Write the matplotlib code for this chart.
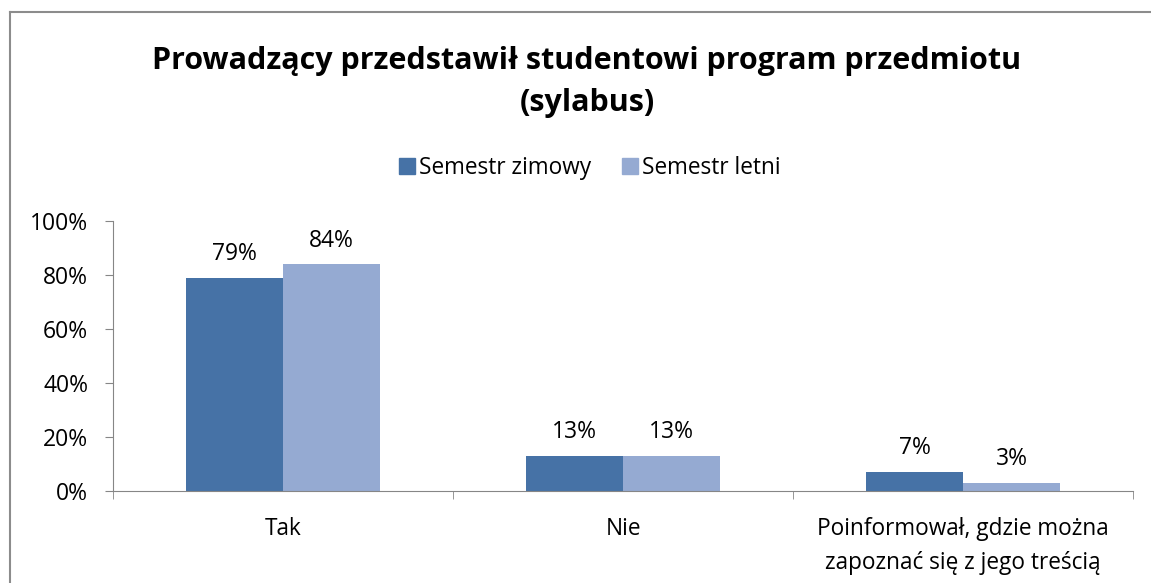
import matplotlib.pyplot as plt
import numpy as np
from matplotlib.lines import Line2D

plt.rcParams['font.family'] = ['Open Sans', 'DejaVu Sans']

categories = ["Tak", "Nie", "Poinformował, gdzie można\nzapoznać się z jego treścią"]
zimowy = [79, 13, 7]
letni = [84, 13, 3]
series_names = ["Semestr zimowy", "Semestr letni"]
colors = ["#4672A6", "#95AAD2"]

fig = plt.figure(figsize=(11.51, 5.83), dpi=100)
ax = fig.add_axes([113 / 1151, 1 - 491 / 583, (1133 - 113) / 1151, (491 - 221) / 583])

x = np.arange(len(categories))
w = 0.285
b1 = ax.bar(x - w / 2, zimowy, w, color=colors[0], label=series_names[0])
b2 = ax.bar(x + w / 2, letni, w, color=colors[1], label=series_names[1])

for bars, vals in [(b1, zimowy), (b2, letni)]:
    for bar, v in zip(bars, vals):
        ax.text(bar.get_x() + bar.get_width() / 2, v + 4.3, f"{v}%",
                ha='center', va='bottom', fontsize=16.5)

ax.set_xlim(-0.5, 2.5)
ax.set_ylim(0, 100)
ax.set_yticks(range(0, 101, 20))
ax.set_yticklabels([f"{t}%" for t in range(0, 101, 20)], fontsize=16.5)
ax.set_xticks(x)
ax.set_xticklabels(categories, fontsize=16.3, linespacing=1.55)
ax.tick_params(axis='x', length=0, pad=19)
ax.set_xticks([-0.5, 0.5, 1.5, 2.5], minor=True)
ax.tick_params(axis='x', which='minor', length=6, color='#868686')
ax.tick_params(axis='y', length=6, color='#868686', pad=12)

for s in ['top', 'right']:
    ax.spines[s].set_visible(False)
for s in ['left', 'bottom']:
    ax.spines[s].set_color('#868686')

fig.text(587 / 1151, 1 - 82 / 583, "Prowadzący przedstawił studentowi program przedmiotu\n(sylabus)",
         ha='center', va='center', fontsize=22, fontweight='bold', linespacing=1.5)

handles = [Line2D([], [], marker='s', linestyle='none', markersize=12, color=c) for c in colors]
fig.legend(handles, series_names, loc='center', bbox_to_anchor=(588 / 1151, 1 - 168 / 583),
           ncol=2, frameon=False, fontsize=16.3, handletextpad=0.05, columnspacing=1.2,
           handlelength=1.0)

# ramka wykresu
fig.add_artist(Line2D([10 / 1151, 10 / 1151], [0, 1 - 12 / 583], transform=fig.transFigure, color='#8c8c8c', lw=1.5))
fig.add_artist(Line2D([10 / 1151, 1], [1 - 12 / 583, 1 - 12 / 583], transform=fig.transFigure, color='#8c8c8c', lw=1.5))

fig.savefig("out.png", dpi=100)
